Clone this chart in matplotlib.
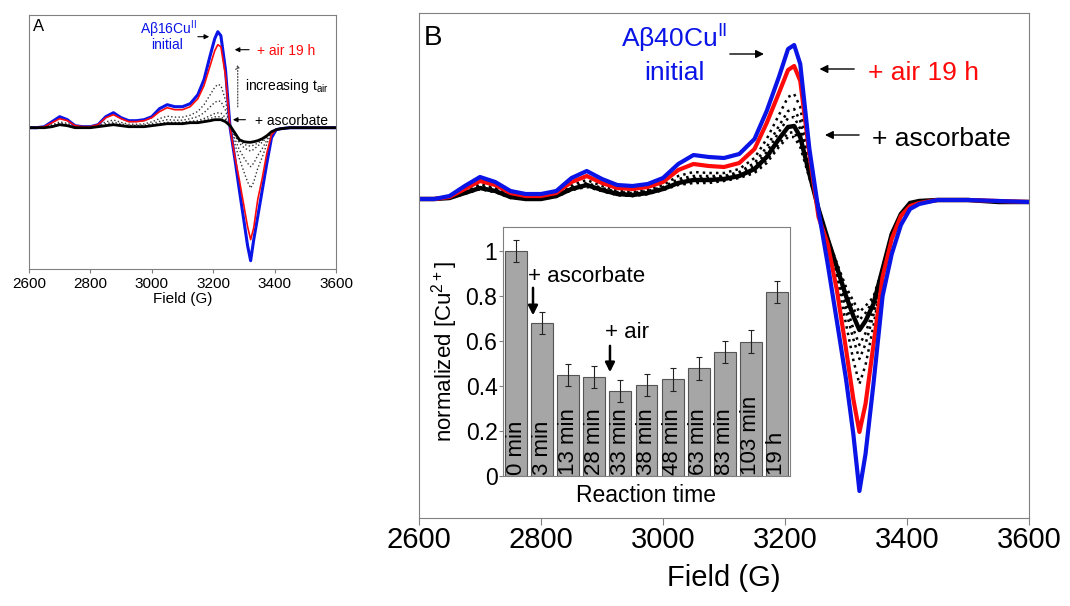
import numpy as np
import matplotlib.pyplot as plt

plt.rcParams['font.family'] = ['Liberation Sans', 'DejaVu Sans']
plt.rcParams['mathtext.default'] = 'regular'

# field axis shared by all spectra (G)
field = [2600, 2625, 2650, 2675, 2700, 2725, 2750, 2775, 2800, 2825,
         2850, 2875, 2900, 2925, 2950, 2975, 3000, 3025, 3050, 3075,
         3100, 3125, 3150, 3170, 3190, 3205, 3215, 3225, 3240, 3255,
         3270, 3285, 3300, 3312, 3322, 3332, 3345, 3360, 3375, 3390,
         3405, 3420, 3450, 3500, 3550, 3600]

# panel A : Abeta16 (arbitrary units)
a_initial = [0, 0, 1, 6, 11, 8, 2, 1, 1, 3,
             11, 15, 10, 7, 7, 8, 11, 19, 23, 21,
             21, 24, 33, 48, 72, 89, 96, 92, 58, 0,
             -30, -62, -93, -118, -133, -112, -89, -62, -35, -10,
             -2, -1, 0, 0, 0, 0]
a_air19h = [0, 0, 1, 5, 9, 7, 2, 1, 1, 3,
            10, 13, 9, 6, 6, 7, 10, 16, 20, 18,
            18, 21, 29, 42, 62, 77, 83, 81, 52, 0,
            -28, -52, -78, -99, -112, -100, -72, -50, -25, -7,
            -2, -1, 0, 0, 0, 0]
a_ascorbate = [0, 0, 0, 1, 3, 2, 0, 0, 0, 1,
               2, 3, 2, 1, 1, 1, 2, 3, 4, 4,
               4, 5, 5, 6, 7, 8, 8, 8, 6, 2,
               -5, -12, -14, -14.5, -14.6, -14, -13, -11, -8, -4,
               -2, -1, 0, 0, 0, 0]
a_mid1 = [0, 0, 0.5, 2.9, 5.8, 4.4, 0.9, 0.5, 0.5, 1.9,
          5.8, 7.7, 5.3, 3.4, 3.4, 3.8, 5.8, 9.1, 11.5, 10.6,
          10.6, 12.5, 16.3, 22.9, 32.9, 40.4, 43.3, 42.3, 27.6, 1.1,
          -15.8, -30.8, -44.1, -54.2, -60.4, -54.4, -40.7, -29.3, -16, -5.4,
          -2, -1, 0, 0, 0, 0]
a_mid2 = [0, 0, 0.3, 2, 4.5, 3.3, 0.5, 0.3, 0.3, 1.5,
          4, 5.5, 3.8, 2.3, 2.3, 2.5, 4, 6.3, 8, 7.5,
          7.5, 9, 11, 15, 20.8, 25.3, 26.8, 26.3, 17.5, 1.5,
          -10.8, -22, -30, -35.6, -39, -35.5, -27.8, -20.8, -12.3, -4.8,
          -2, -1, 0, 0, 0, 0]
a_mid3 = [0, 0, 0.1, 1.4, 3.5, 2.5, 0.2, 0.1, 0.1, 1.2,
          2.7, 3.9, 2.6, 1.5, 1.5, 1.5, 2.7, 4.2, 5.4, 5.3,
          5.3, 6.4, 7.2, 9.2, 12, 14.2, 14.8, 14.6, 10.1, 1.8,
          -7.1, -15.6, -19.8, -22.1, -23.4, -21.7, -18.3, -14.5, -9.5, -4.3,
          -2, -1, 0, 0, 0, 0]
a_mid4 = [0, 0, 0, 1.2, 3.2, 2.2, 0.1, 0, 0, 1.1,
          2.3, 3.4, 2.3, 1.2, 1.2, 1.2, 2.3, 3.5, 4.6, 4.6,
          4.6, 5.6, 6, 7.4, 9.2, 10.8, 11, 10.9, 7.8, 1.9,
          -5.9, -13.6, -16.6, -17.9, -18.5, -17.4, -15.4, -12.6, -8.7, -4.1,
          -2, -1, 0, 0, 0, 0]

# panel B : Abeta40
b_initial = [0, 0, 3, 13, 22, 17, 8, 5, 5, 8,
             21, 28, 20, 14, 13, 15, 21, 35, 44, 42,
             41, 45, 60, 88, 122, 150, 154, 135, 50, -12,
             -65, -122, -180, -235, -292, -255, -185, -97, -55, -26,
             -10, -5, -1, -1, -2, -3]
b_air19h = [0, 0, 2, 10, 18, 14, 6, 3, 3, 6,
            17, 23, 16, 11, 10, 12, 17, 29, 35, 33,
            32, 36, 50, 76, 106, 129, 133, 118, 45, -18,
            -45, -91, -150, -200, -233, -205, -146, -78, -40, -17,
            -7, -4, -1, -1, -2, -3]
b_ascorbate = [0, 0, 1, 6, 11, 8, 2, 0, 0, 3,
               10, 14, 9, 5, 4, 6, 10, 16, 19, 19,
               20, 23, 30, 42, 60, 72, 73, 62, 25, -10,
               -40, -68, -97, -117, -131, -122, -105, -70, -35, -15,
               -4, -2, -1, -1, -3, -3]
b_mid1 = [0, 0, 2, 8, 15, 11, 4, 2, 2, 5,
          14, 19, 13, 8, 7, 9, 14, 23, 27, 26,
          26, 30, 41, 60, 84, 102, 105, 92, 36, -14,
          -43, -80, -125, -161, -185, -166, -127, -74, -38, -16,
          -6, -3, -1, -1, -2, -3]
b_mid2 = [0, 0, 1, 7, 13, 10, 3, 1, 1, 4,
          12, 16, 11, 7, 6, 8, 12, 20, 23, 23,
          23, 27, 36, 52, 73, 88, 90, 78, 31, -12,
          -41, -74, -112, -140, -160, -145, -116, -72, -36, -16,
          -5, -3, -1, -1, -3, -3]
b_mid3 = [0, 0, 1, 6, 12, 9, 2, 0, 0, 3,
          11, 15, 10, 6, 5, 7, 11, 18, 21, 21,
          22, 25, 33, 47, 67, 81, 82, 70, 28, -11,
          -41, -71, -105, -130, -146, -134, -111, -71, -36, -15,
          -4, -2, -1, -1, -3, -3]
b_mid4 = [0, 0, 1, 6, 10, 7, 2, 0, 0, 3,
          9, 13, 8, 4, 3, 5, 9, 15, 17, 18,
          19, 22, 28, 39, 55, 66, 67, 56, 23, -9,
          -40, -66, -92, -109, -121, -114, -101, -69, -35, -15,
          -4, -2, -1, -1, -3, -3]
b_mid5 = [0, 0, 1, 5, 10, 7, 1, 0, 0, 2,
          9, 12, 8, 4, 3, 5, 9, 14, 16, 16,
          18, 21, 26, 36, 52, 62, 62, 52, 21, -9,
          -39, -64, -88, -102, -113, -107, -98, -69, -34, -15,
          -4, -2, -1, -1, -3, -3]

# inset : normalized Cu2+ vs reaction time
times = ['0 min', '3 min', '13 min', '28 min', '33 min', '38 min',
         '48 min', '63 min', '83 min', '103 min', '19 h']
cu_norm = [1.0, 0.68, 0.45, 0.44, 0.378, 0.404, 0.43, 0.478, 0.552, 0.597, 0.818]
cu_err = [0.05, 0.05, 0.05, 0.05, 0.05, 0.05, 0.05, 0.05, 0.05, 0.05, 0.05]

BLUE = '#0a14e6'
RED = '#ff0a0a'
FRAME = '#808080'

fig = plt.figure(figsize=(10.7, 6.06), dpi=100)
axA = fig.add_axes([29 / 1070, 1 - 269 / 606, 307 / 1070, 254 / 606])
axB = fig.add_axes([419 / 1070, 1 - 518 / 606, 610 / 1070, 505 / 606])
axI = fig.add_axes([503 / 1070, 1 - 476 / 606, 287 / 1070, 249 / 606])

# ---- panel A ----
for mid in (a_mid1, a_mid2, a_mid3, a_mid4):
    axA.plot(field, mid, ls=':', lw=1.0, color='#333333')
axA.plot(field, a_initial, color=BLUE, lw=2.2)
axA.plot(field, a_air19h, color=RED, lw=1.2)
axA.plot(field, a_ascorbate, color='black', lw=2.0)
axA.set_xlim(2600, 3600)
axA.set_ylim(-141.3, 112.7)
axA.set_xticks(range(2600, 3601, 200))
axA.set_yticks([])
axA.tick_params(axis='x', direction='out', length=3, color=FRAME, labelsize=11, pad=3)
axA.set_xlabel('Field (G)', fontsize=11, labelpad=0.5)
for s in axA.spines.values():
    s.set_color(FRAME)

axA.text(2612, 101, 'A', fontsize=12, va='center')
axA.text(3053, 94, r'A$\beta$16Cu$^{II}$', color=BLUE, fontsize=10, ha='center', va='baseline')
axA.text(3050, 79, 'initial', color=BLUE, fontsize=10, ha='center', va='baseline')
axA.text(3343, 77, '+ air 19 h', color=RED, fontsize=10, va='center')
axA.text(3336, 7, '+ ascorbate', color='black', fontsize=10, va='center')
axA.text(3304, 42, r'increasing t$_{air}$', fontsize=10, va='center')
arr = dict(arrowstyle='-|>', lw=0.8, color='black', mutation_scale=7)
axA.annotate('', xy=(3196, 91), xytext=(3141, 91), arrowprops=arr)
axA.annotate('', xy=(3261, 78), xytext=(3326, 78), arrowprops=arr)
axA.annotate('', xy=(3255, 8), xytext=(3314, 8), arrowprops=arr)
axA.annotate('', xy=(3280, 66), xytext=(3280, 18),
             arrowprops=dict(arrowstyle='->', lw=0.8, ls=':', color='#333333', mutation_scale=7))

# ---- panel B ----
for mid in (b_mid1, b_mid2, b_mid3, b_mid4, b_mid5):
    axB.plot(field, mid, ls=':', lw=1.8, color='black')
axB.plot(field, b_ascorbate, color='black', lw=3.2)
axB.plot(field, b_air19h, color=RED, lw=3.0)
axB.plot(field, b_initial, color=BLUE, lw=3.0)
axB.set_xlim(2600, 3600)
axB.set_ylim(-319, 186)
axB.set_xticks(range(2600, 3601, 200))
axB.set_yticks([])
axB.tick_params(axis='x', direction='out', length=5, color=FRAME, labelsize=21, pad=1)
axB.set_xlabel('Field (G)', fontsize=21, labelpad=7)
for s in axB.spines.values():
    s.set_color(FRAME)

axB.text(2608, 154, 'B', fontsize=20, va='baseline')
axB.text(3018, 151, r'A$\beta$40Cu$^{II}$', color=BLUE, fontsize=19, ha='center', va='baseline')
axB.text(3018, 119, 'initial', color=BLUE, fontsize=19, ha='center', va='baseline')
axB.text(3336, 119, '+ air 19 h', color=RED, fontsize=19, va='baseline')
axB.text(3343, 53, '+ ascorbate', color='black', fontsize=19, va='baseline')
arrB = dict(arrowstyle='-|>', lw=1.0, color='black', mutation_scale=12)
axB.annotate('', xy=(3170, 145), xytext=(3105, 145), arrowprops=arrB)
axB.annotate('', xy=(3252, 130), xytext=(3318, 130), arrowprops=arrB)
axB.annotate('', xy=(3261, 64), xytext=(3326, 64), arrowprops=arrB)

# ---- inset ----
xpos = np.arange(len(times))
axI.bar(xpos, cu_norm, width=0.84, color='#a6a6a6', edgecolor='#555555', lw=0.8,
        yerr=cu_err, capsize=2.5, error_kw=dict(elinewidth=0.8, ecolor='#222222', capthick=0.8))
for i, lab in enumerate(times):
    axI.text(xpos[i], 0.006, lab, rotation=90, ha='center', va='bottom', fontsize=16)
axI.set_xlim(-0.5, 10.5)
axI.set_ylim(0, 1.107)
axI.set_xticks([])
axI.set_yticks([0, 0.2, 0.4, 0.6, 0.8, 1.0])
axI.set_yticklabels(['0', '0.2', '0.4', '0.6', '0.8', '1'])
axI.tick_params(axis='y', direction='out', length=3, color=FRAME, labelsize=16.5, pad=1)
axI.set_xlabel('Reaction time', fontsize=16.5, labelpad=6)
axI.set_ylabel(r'normalized [Cu$^{2+}$]', fontsize=16, labelpad=4)
for s in axI.spines.values():
    s.set_color(FRAME)

axI.text(0.46, 0.889, '+ ascorbate', fontsize=16, va='center')
axI.text(3.41, 0.636, '+ air', fontsize=16, va='center')
arrI = dict(arrowstyle='-|>', lw=1.8, color='black', mutation_scale=14)
axI.annotate('', xy=(0.65, 0.702), xytext=(0.65, 0.849), arrowprops=arrI)
axI.annotate('', xy=(3.60, 0.449), xytext=(3.60, 0.591), arrowprops=arrI)

fig.savefig('out.png', dpi=100)
